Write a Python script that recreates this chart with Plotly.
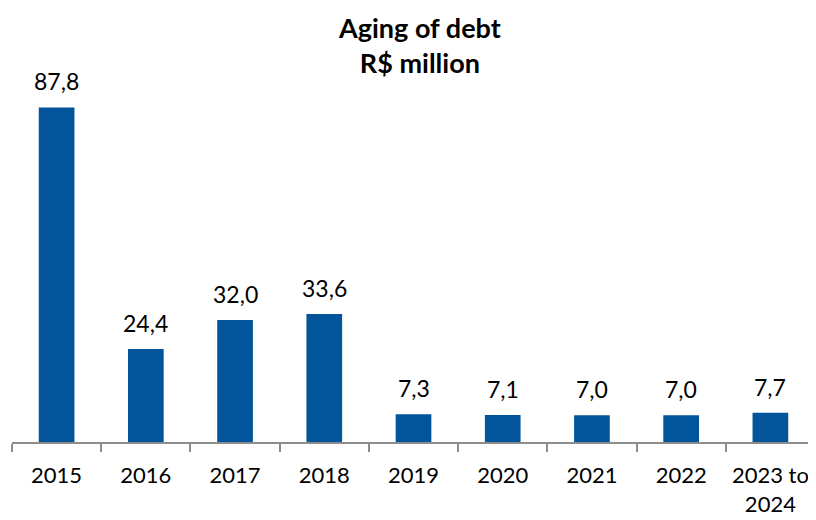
import plotly.graph_objects as go

categories = ["2015", "2016", "2017", "2018", "2019", "2020", "2021", "2022", "2023 to<br>2024"]
values = [87.8, 24.4, 32.0, 33.6, 7.3, 7.1, 7.0, 7.0, 7.7]
labels = [f"{v:.1f}".replace(".", ",") for v in values]

FONT = "Lato"

fig = go.Figure(go.Bar(
    x=categories, y=values,
    marker=dict(color="#02559A", line=dict(width=0)),
    width=0.4, hoverinfo="x+y",
))

for i, (v, t) in enumerate(zip(values, labels)):
    fig.add_annotation(x=i, y=v, xref="x", yref="y", text=t, showarrow=False,
                       yanchor="bottom", yshift=10,
                       font=dict(size=23, family=FONT, color="#000000"))

fig.add_annotation(x=0.508, y=1, xref="paper", yref="paper", xanchor="center",
                   yanchor="top", yshift=52, showarrow=False,
                   text="<b>Aging of debt<br>R$ million</b>",
                   font=dict(size=27, family=FONT, color="#000000"))

fig.update_layout(
    width=808, height=512,
    margin=dict(l=4, r=1, t=53, b=78, autoexpand=False),
    plot_bgcolor="white", paper_bgcolor="white",
    font=dict(family=FONT, size=22, color="#000000"),
    showlegend=False,
    xaxis=dict(showline=True, linecolor="#8C8C8C", linewidth=2, ticks="outside",
               tickson="boundaries", ticklen=8, tickcolor="#8C8C8C", tickwidth=2,
               tickfont=dict(size=22, family=FONT), showgrid=False, range=[-0.5, 8.5],
               tickangle=0, ticklabelstandoff=13, automargin=False),
    yaxis=dict(visible=False, range=[0, 100], showgrid=False, automargin=False),
)

fig.write_html("out.html")
